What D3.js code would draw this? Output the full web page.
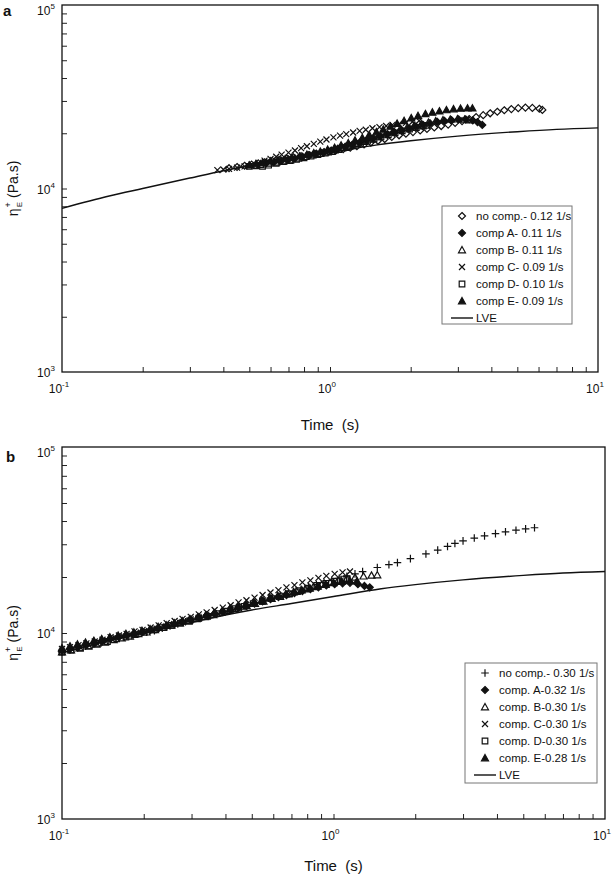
<!DOCTYPE html>
<html>
<head>
<meta charset="utf-8">
<script src="https://cdn.jsdelivr.net/npm/d3@7"></script>
<style>
    body { margin: 0; background: #fff; }
    svg { display: block; font-family: 'Liberation Sans', Arial, sans-serif; }
</style>
</head>
<body>
<script>
// #region DATA
// LVE envelope (same for both panels)
var lveData = [[0.1, 7800], [0.15, 9100], [0.2, 10000], [0.3, 11400], [0.4, 12500], [0.5, 13300],
    [0.7, 14400], [1.0, 15700], [1.5, 17300], [2.0, 18200], [3.0, 19300], [5.0, 20400], [7.0, 21000], [10.0, 21400]];

// panel a, ~0.1 1/s
var aNoComp = [[0.42, 12900], [0.45, 13100], [0.48, 13300], [0.51, 13500], [0.54, 13700], [0.57, 13900], [0.61, 14100],
    [0.65, 14300], [0.69, 14600], [0.73, 14800], [0.78, 15000], [0.83, 15200], [0.88, 15400], [0.93, 15600], [0.99, 15900],
    [1.05, 16100], [1.12, 16400], [1.19, 16700], [1.26, 17000], [1.34, 17400], [1.42, 17800], [1.51, 18200], [1.60, 18600],
    [1.70, 19100], [1.81, 19500], [1.92, 19900], [2.04, 20300], [2.17, 20700], [2.30, 21100], [2.45, 21500], [2.60, 21900],
    [2.76, 22300], [2.93, 22800], [3.11, 23300], [3.31, 23900], [3.51, 24500], [3.73, 25100], [3.96, 25700], [4.21, 26200],
    [4.47, 26700], [4.75, 27100], [5.04, 27400], [5.36, 27600], [5.69, 27500], [6.04, 27200], [6.20, 26800]];
var aCompA = [[0.58, 13800], [0.62, 14000], [0.66, 14200], [0.70, 14400], [0.74, 14600], [0.79, 14900], [0.84, 15200],
    [0.89, 15500], [0.95, 15800], [1.01, 16100], [1.07, 16500], [1.14, 16900], [1.21, 17300], [1.29, 17800], [1.37, 18300],
    [1.45, 18800], [1.54, 19300], [1.64, 19800], [1.74, 20300], [1.85, 20800], [1.97, 21300], [2.09, 21800], [2.22, 22300],
    [2.36, 22700], [2.51, 23100], [2.67, 23400], [2.84, 23600], [3.02, 23800], [3.21, 23800], [3.41, 23500], [3.55, 23000], [3.70, 22200]];
var aCompB = [[0.55, 13500], [0.59, 13700], [0.63, 13900], [0.67, 14100], [0.71, 14300], [0.76, 14600], [0.81, 14900],
    [0.86, 15200], [0.92, 15500], [0.98, 15800], [1.04, 16200], [1.11, 16600], [1.18, 17000], [1.25, 17500], [1.33, 18000],
    [1.42, 18500], [1.51, 19100], [1.61, 19700], [1.71, 20300], [1.82, 20900], [1.94, 21500], [2.06, 22000], [2.19, 22500],
    [2.33, 22900], [2.48, 23300], [2.64, 23600], [2.81, 23800], [2.99, 23900], [3.18, 23800], [3.30, 23600]];
var aCompC = [[0.38, 12600], [0.40, 12700], [0.42, 12800], [0.45, 13000], [0.48, 13200], [0.51, 13500], [0.54, 13800],
    [0.57, 14200], [0.60, 14500], [0.63, 14900], [0.66, 15300], [0.70, 15700], [0.74, 16100], [0.78, 16600], [0.82, 17000],
    [0.87, 17500], [0.92, 18000], [0.97, 18500], [1.03, 19000], [1.09, 19400], [1.15, 19800], [1.22, 20200], [1.29, 20600],
    [1.36, 20900], [1.44, 21300], [1.53, 21600], [1.62, 21900], [1.71, 22200], [1.81, 22500], [1.92, 22800], [2.03, 23100], [2.15, 23400]];
var aCompD = [[0.50, 13200], [0.53, 13300], [0.56, 13200], [0.59, 13400], [0.63, 13700], [0.67, 14000], [0.71, 14200],
    [0.75, 14400], [0.80, 14700], [0.85, 15000], [0.90, 15300], [0.96, 15600], [1.02, 15900], [1.08, 16300], [1.15, 16700],
    [1.22, 17100], [1.30, 17600], [1.38, 18100], [1.46, 18600], [1.55, 19100], [1.65, 19600], [1.75, 20100], [1.86, 20600],
    [1.98, 21100], [2.10, 21500], [2.23, 21900], [2.30, 22100]];
var aCompE = [[0.50, 13400], [0.53, 13600], [0.56, 13800], [0.60, 14100], [0.64, 14300], [0.68, 14500], [0.72, 14700],
    [0.77, 15000], [0.82, 15300], [0.87, 15600], [0.92, 15900], [0.98, 16300], [1.04, 16700], [1.10, 17200], [1.17, 17700],
    [1.24, 18300], [1.32, 18900], [1.40, 19600], [1.49, 20300], [1.58, 21000], [1.68, 21800], [1.78, 22600], [1.89, 23400],
    [2.01, 24200], [2.13, 24900], [2.27, 25500], [2.41, 26000], [2.56, 26400], [2.72, 26800], [2.89, 27100], [3.07, 27300],
    [3.26, 27400], [3.40, 27400]];

// panel b, ~0.3 1/s
var bNoComp = [[0.100, 7900], [0.107, 8100], [0.114, 8300], [0.122, 8500], [0.130, 8700], [0.139, 8900], [0.148, 9100],
    [0.158, 9300], [0.169, 9500], [0.180, 9700], [0.192, 9900], [0.205, 10100], [0.219, 10300], [0.234, 10600], [0.250, 10900],
    [0.267, 11200], [0.285, 11500], [0.304, 11800], [0.325, 12100], [0.347, 12400], [0.370, 12700], [0.395, 13000],
    [0.422, 13400], [0.450, 13800], [0.481, 14200], [0.513, 14600], [0.548, 15000], [0.585, 15400], [0.624, 15800],
    [0.666, 16200], [0.711, 16700], [0.759, 17200], [0.810, 17700], [0.865, 18200], [0.923, 18700], [0.985, 19200],
    [1.05, 19700], [1.12, 20200], [1.20, 20800], [1.28, 21400], [1.45, 22500], [1.60, 23300], [1.72, 23900], [1.92, 25100],
    [2.19, 26600], [2.42, 27900], [2.63, 29200], [2.80, 30300], [3.00, 31300], [3.30, 32400], [3.60, 33300], [3.95, 34200],
    [4.30, 35000], [4.70, 35700], [5.10, 36300], [5.50, 36800]];
var bCompA = [[0.100, 8000], [0.107, 8200], [0.115, 8400], [0.123, 8600], [0.132, 8800], [0.141, 9000], [0.151, 9300],
    [0.162, 9500], [0.173, 9700], [0.185, 9900], [0.198, 10100], [0.212, 10400], [0.227, 10600], [0.243, 10900], [0.260, 11200],
    [0.278, 11500], [0.298, 11800], [0.319, 12100], [0.341, 12400], [0.365, 12700], [0.391, 13000], [0.418, 13300],
    [0.447, 13700], [0.478, 14000], [0.512, 14400], [0.548, 14800], [0.586, 15200], [0.627, 15600], [0.671, 16000],
    [0.718, 16400], [0.768, 16800], [0.822, 17200], [0.880, 17600], [0.941, 18000], [1.01, 18300], [1.08, 18500],
    [1.15, 18600], [1.23, 18300], [1.30, 17900], [1.36, 17600]];
var bCompB = [[0.100, 7900], [0.108, 8100], [0.116, 8300], [0.125, 8500], [0.134, 8700], [0.144, 8900], [0.155, 9200],
    [0.166, 9400], [0.178, 9600], [0.191, 9900], [0.205, 10100], [0.220, 10400], [0.236, 10700], [0.253, 11000], [0.272, 11300],
    [0.292, 11600], [0.313, 11900], [0.336, 12200], [0.361, 12500], [0.387, 12900], [0.416, 13200], [0.446, 13600],
    [0.479, 14000], [0.514, 14400], [0.552, 14800], [0.592, 15300], [0.636, 15700], [0.682, 16200], [0.732, 16700],
    [0.786, 17200], [0.843, 17700], [0.905, 18200], [0.971, 18700], [1.04, 19200], [1.12, 19600], [1.20, 19900],
    [1.29, 20200], [1.38, 20400], [1.45, 20500]];
var bCompC = [[0.100, 8200], [0.107, 8400], [0.115, 8600], [0.123, 8800], [0.132, 9000], [0.141, 9200], [0.151, 9500],
    [0.162, 9700], [0.173, 9900], [0.185, 10200], [0.198, 10400], [0.212, 10700], [0.227, 11000], [0.243, 11300],
    [0.260, 11600], [0.278, 11900], [0.298, 12200], [0.319, 12600], [0.341, 12900], [0.365, 13300], [0.391, 13700],
    [0.418, 14100], [0.447, 14600], [0.478, 15000], [0.512, 15500], [0.548, 16000], [0.586, 16500], [0.627, 17000],
    [0.671, 17600], [0.718, 18100], [0.768, 18700], [0.822, 19200], [0.880, 19800], [0.941, 20300], [1.01, 20800],
    [1.08, 21200], [1.15, 21400]];
var bCompD = [[0.100, 7900], [0.108, 8100], [0.117, 8300], [0.126, 8500], [0.136, 8800], [0.147, 9000], [0.159, 9300],
    [0.172, 9500], [0.186, 9800], [0.201, 10100], [0.217, 10400], [0.234, 10700], [0.253, 11000], [0.273, 11300],
    [0.295, 11600], [0.319, 12000], [0.344, 12300], [0.372, 12700], [0.402, 13100], [0.434, 13500], [0.469, 13900],
    [0.506, 14400], [0.547, 14800], [0.591, 15300], [0.638, 15800], [0.689, 16300], [0.744, 16900], [0.804, 17400],
    [0.868, 18000], [0.937, 18500], [1.01, 19000], [1.09, 19500], [1.12, 19600]];
var bCompE = [[0.100, 8300], [0.107, 8500], [0.114, 8700], [0.122, 8900], [0.131, 9100], [0.140, 9300], [0.150, 9500],
    [0.161, 9700], [0.172, 9900], [0.184, 10100], [0.197, 10300], [0.211, 10500], [0.226, 10800], [0.242, 11000],
    [0.259, 11300], [0.277, 11600], [0.296, 11900], [0.317, 12200], [0.339, 12500], [0.363, 12800], [0.388, 13100],
    [0.415, 13500], [0.444, 13900], [0.475, 14200], [0.508, 14600], [0.544, 15000], [0.582, 15400], [0.623, 15800],
    [0.667, 16200], [0.714, 16600], [0.764, 17000], [0.818, 17400], [0.875, 17800], [0.936, 18200], [1.00, 18600],
    [1.07, 18900], [1.15, 19100], [1.22, 19000]];

var legendA = ["no comp.- 0.12 1/s", "comp A- 0.11 1/s", "comp B- 0.11 1/s", "comp C- 0.09 1/s", "comp D- 0.10 1/s", "comp E- 0.09 1/s", "LVE"];
var legendB = ["no comp.- 0.30 1/s", "comp. A-0.32 1/s", "comp. B-0.30 1/s", "comp. C-0.30 1/s", "comp. D-0.30 1/s", "comp. E-0.28 1/s", "LVE"];

var xMinorTicks = [0.2, 0.3, 0.4, 0.5, 0.6, 0.7, 0.8, 0.9, 1, 2, 3, 4, 5, 6, 7, 8, 9];
var yMinorTicks = [2000, 3000, 4000, 5000, 6000, 7000, 8000, 9000, 10000, 20000, 30000, 40000, 50000, 60000, 70000, 80000, 90000];
var xLabelVals = [0.1, 1, 10], xLabelExp = ["-1", "0", "1"];
var yLabelVals = [1000, 10000, 100000], yLabelExp = ["3", "4", "5"];
// #endregion

// marker shapes, h = half size
var markerPath = function(shape, h) {
    if (shape == "diamond") return "M0," + (-h) + "L" + h + ",0L0," + h + "L" + (-h) + ",0Z";
    if (shape == "square") return "M" + (-h) + "," + (-h) + "H" + h + "V" + h + "H" + (-h) + "Z";
    if (shape == "triangle") return "M0," + (-h) + "L" + h + "," + (h * 0.8) + "L" + (-h) + "," + (h * 0.8) + "Z";
    if (shape == "times") return "M" + (-h) + "," + (-h) + "L" + h + "," + h + "M" + (-h) + "," + h + "L" + h + "," + (-h);
    return "M" + (-h) + ",0H" + h + "M0," + (-h) + "V" + h; // plus
};

var svg = d3.select("body")
    .append("svg")
    .attr("width", 614)
    .attr("height", 876);

var drawPanel = function(cfg) {
    var x = d3.scaleLog().domain([0.1, 10]).range([cfg.left, cfg.right]);
    var y = d3.scaleLog().domain([1000, 100000]).range([cfg.bottom, cfg.top]);
    var g = svg.append("g");

    // ticks (inward, left and bottom only)
    g.append("g")
        .attr("transform", "translate(0," + cfg.bottom + ")")
        .call(d3.axisBottom(x).tickValues(xMinorTicks).tickSize(-5).tickFormat(""))
        .call(a => a.select(".domain").remove())
        .selectAll("line").attr("stroke", "#222");
    g.append("g")
        .attr("transform", "translate(" + cfg.left + ",0)")
        .call(d3.axisLeft(y).tickValues(yMinorTicks).tickSize(-5).tickFormat(""))
        .call(a => a.select(".domain").remove())
        .selectAll("line").attr("stroke", "#222");

    // frame
    g.append("rect")
        .attr("x", cfg.left).attr("y", cfg.top)
        .attr("width", cfg.right - cfg.left).attr("height", cfg.bottom - cfg.top)
        .attr("fill", "none").attr("stroke", "#111").attr("stroke-width", 1.3);

    // tick labels
    var xl = g.selectAll(".xlab").data(xLabelVals).enter().append("text")
        .attr("x", d => x(d) - 3).attr("y", cfg.bottom + 21)
        .attr("text-anchor", "middle").attr("font-size", "12px").attr("fill", "#111");
    xl.append("tspan").text("10");
    xl.append("tspan").text((d, i) => xLabelExp[i]).attr("font-size", "8px").attr("dy", -6);

    var yl = g.selectAll(".ylab").data(yLabelVals).enter().append("text")
        .attr("x", cfg.left - 16).attr("y", d => Math.max(y(d) + 5, cfg.top + 10))
        .attr("text-anchor", "middle").attr("font-size", "12px").attr("fill", "#111");
    yl.append("tspan").text("10");
    yl.append("tspan").text((d, i) => yLabelExp[i]).attr("font-size", "8px").attr("dy", -6);

    // axis titles
    g.append("text")
        .attr("x", (cfg.left + cfg.right) / 2).attr("y", cfg.timeY)
        .attr("text-anchor", "middle").attr("font-size", "15px").attr("fill", "#111")
        .attr("xml:space", "preserve")
        .text("Time  (s)");

    var yt = g.append("text")
        .attr("transform", "translate(" + cfg.yTitleX + "," + y(10000) + ") rotate(-90)")
        .attr("text-anchor", "middle").attr("font-size", "14px").attr("fill", "#111");
    yt.append("tspan").text("\u03B7");
    yt.append("tspan").text("+").attr("font-size", "9px").attr("dy", -7).attr("dx", 1);
    yt.append("tspan").text("E").attr("font-size", "8px").attr("dy", 11).attr("dx", -5);
    yt.append("tspan").text(" (Pa.s)").attr("dy", -4);

    // panel letter
    g.append("text")
        .attr("x", cfg.letterX).attr("y", cfg.letterY)
        .attr("font-size", "15px").attr("font-weight", "bold").attr("fill", "#111")
        .text(cfg.letter);

    // LVE line
    var line = d3.line().x(d => x(d[0])).y(d => y(d[1])).curve(d3.curveMonotoneX);
    g.append("path")
        .datum(lveData)
        .attr("d", line)
        .attr("fill", "none").attr("stroke", "#111").attr("stroke-width", 1.4);

    // data markers
    cfg.series.forEach(function(s) {
        g.append("g").selectAll("path")
            .data(s.data)
            .enter()
            .append("path")
                .attr("transform", d => "translate(" + x(d[0]) + "," + y(d[1]) + ")")
                .attr("d", markerPath(s.shape, s.h))
                .attr("fill", s.filled ? "#111" : "none")
                .attr("stroke", "#111")
                .attr("stroke-width", 1.2);
    });

    // legend
    var lg = g.append("g").attr("transform", "translate(" + cfg.legX + "," + cfg.legY + ")");
    lg.append("rect")
        .attr("width", cfg.legW).attr("height", cfg.legH)
        .attr("fill", "#fff").attr("stroke", "#777").attr("stroke-width", 1);
    cfg.legend.forEach(function(label, i) {
        var ry = 10 + i * 17;
        if (i < cfg.series.length) {
            var s = cfg.series[i];
            lg.append("path")
                .attr("transform", "translate(20," + ry + ")")
                .attr("d", markerPath(s.shape, s.h))
                .attr("fill", s.filled ? "#111" : "none")
                .attr("stroke", "#111").attr("stroke-width", 1.2);
        } else {
            lg.append("line")
                .attr("x1", 9).attr("x2", 31).attr("y1", ry).attr("y2", ry)
                .attr("stroke", "#111").attr("stroke-width", 1.4);
        }
        lg.append("text")
            .attr("x", 34).attr("y", ry + 4)
            .attr("font-size", "11.5px").attr("fill", "#111")
            .text(label);
    });
};

var styleOf = [
    {shape: "diamond", filled: false, h: 3.5},
    {shape: "diamond", filled: true, h: 3.5},
    {shape: "triangle", filled: false, h: 3.5},
    {shape: "times", filled: false, h: 3},
    {shape: "square", filled: false, h: 2.8},
    {shape: "triangle", filled: true, h: 3.5}
];

var seriesA = [aNoComp, aCompA, aCompB, aCompC, aCompD, aCompE].map((d, i) => Object.assign({data: d}, styleOf[i]));
var seriesB = [bNoComp, bCompA, bCompB, bCompC, bCompD, bCompE].map((d, i) => Object.assign({data: d}, styleOf[i]));
seriesB[0].shape = "plus";
seriesB[0].h = 3.8;

drawPanel({
    left: 62, right: 598, top: 5, bottom: 372,
    timeY: 430, yTitleX: 18, letter: "a", letterX: 3, letterY: 16,
    legX: 442, legY: 206, legW: 130, legH: 118,
    legend: legendA, series: seriesA
});

drawPanel({
    left: 62, right: 605, top: 447, bottom: 819,
    timeY: 871, yTitleX: 18, letter: "b", letterX: 6, letterY: 462,
    legX: 465, legY: 663, legW: 132, legH: 120,
    legend: legendB, series: seriesB
});
</script>
</body>
</html>
